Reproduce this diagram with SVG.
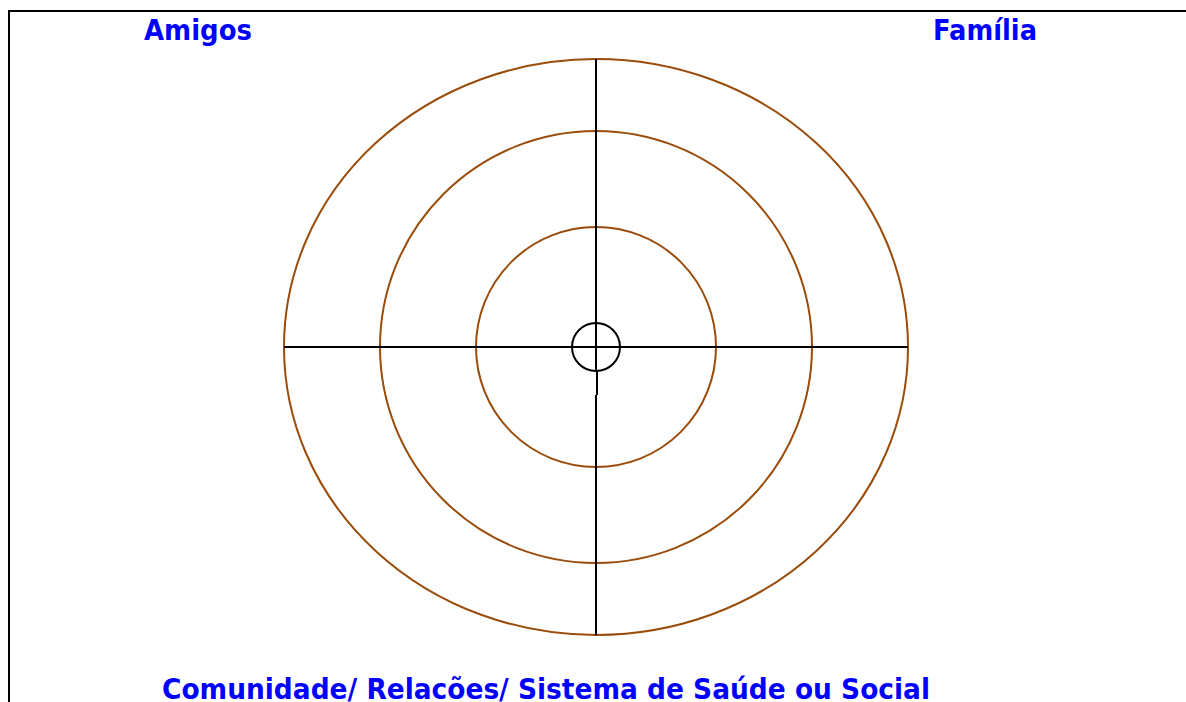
<svg xmlns="http://www.w3.org/2000/svg" width="1186" height="702" viewBox="0 0 1186 702">
<style>
.lbl{font-family:"DejaVu Sans","Liberation Sans",sans-serif;font-weight:bold;font-size:28px;fill:#0000FF}
.ring{fill:none;stroke:#9A4C0A;stroke-width:2}
.ax{stroke:#000;stroke-width:2;fill:none}
</style>
<rect width="1186" height="702" fill="#fff"/>
<g id="frame"><path d="M9,702 V11 H1186" class="ax"/></g>
<g id="rings">
<ellipse id="outer" cx="596" cy="347" rx="312" ry="288" class="ring"/>
<circle id="middle" cx="596" cy="347" r="216" class="ring"/>
<circle id="inner" cx="596" cy="347" r="120" class="ring"/>
</g>
<g id="connectors">
<line x1="596" y1="59" x2="596" y2="371" class="ax"/>
<line x1="597" y1="371" x2="597" y2="395" class="ax"/>
<line x1="596" y1="395" x2="596" y2="635" class="ax"/>
<line x1="284" y1="347" x2="908" y2="347" class="ax"/>
</g>
<g id="center"><circle cx="596" cy="347" r="24" class="ax"/></g>
<g id="amigos"><text class="lbl" x="144" y="40" textLength="108" lengthAdjust="spacingAndGlyphs">Amigos</text></g>
<g id="familia"><text class="lbl" x="933" y="40" textLength="104" lengthAdjust="spacingAndGlyphs">Família</text></g>
<g id="comunidade"><text class="lbl" x="162" y="699" textLength="768" lengthAdjust="spacingAndGlyphs">Comunidade/ Relacões/ Sistema de Saúde ou Social</text></g>
</svg>
